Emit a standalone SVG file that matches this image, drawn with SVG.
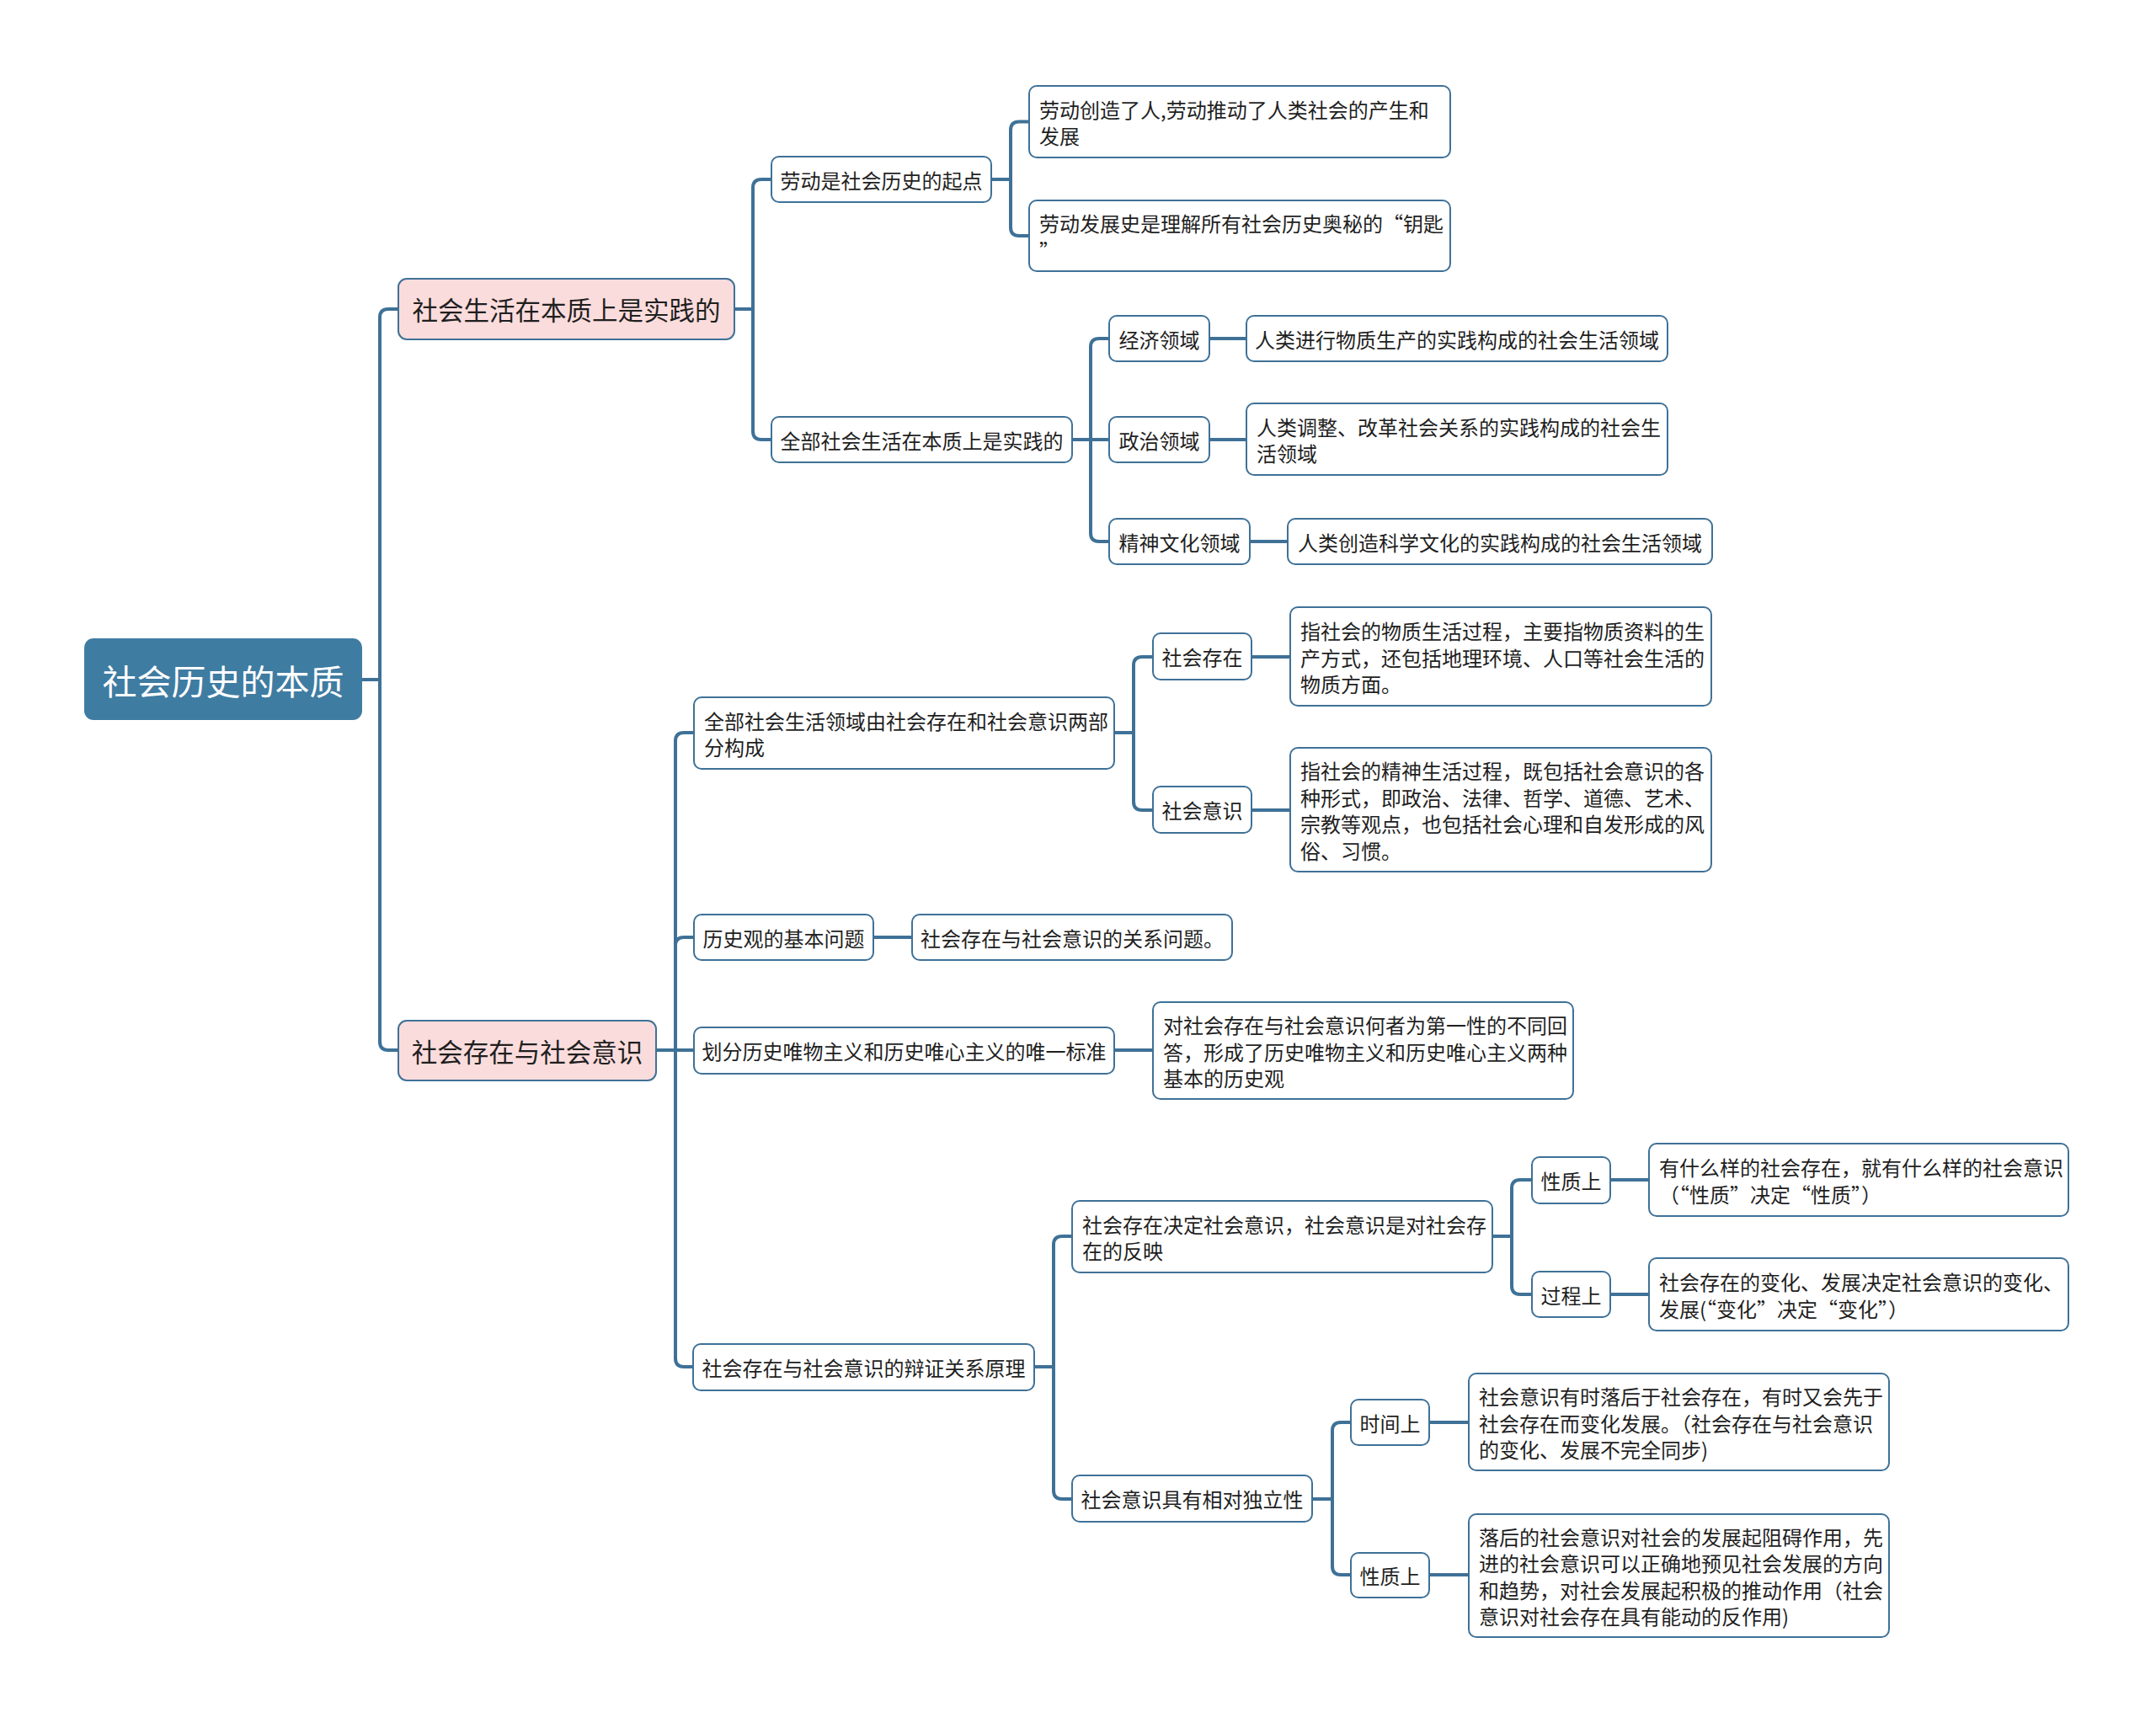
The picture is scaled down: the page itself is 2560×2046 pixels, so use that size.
<svg xmlns="http://www.w3.org/2000/svg" width="2560" height="2046" viewBox="0 0 2560 2046">
<style>
.conn{fill:none;stroke:#3f7197;stroke-width:4;stroke-linecap:round;stroke-linejoin:round}
.box{fill:#ffffff;stroke:#3f7197;stroke-width:2}
.l1{fill:#fbdcdc;stroke:#3f7197;stroke-width:2}
.rootbox{fill:#3f7ca2;stroke:#3f7ca2;stroke-width:2}
text{font-family:"Noto Sans CJK SC","Noto Sans",sans-serif;dominant-baseline:central;fill:#1f1f1f}
.t{font-size:24px}
.c{text-anchor:middle}
.tl1{font-size:30.5px;text-anchor:middle}
.troot{font-size:41px;text-anchor:middle;fill:#ffffff}
</style>
<rect width="2560" height="2046" fill="#ffffff"/>
<g id="connectors">
<path class="conn" d="M429,807 H451 V377 Q451,367 461,367 H473"/>
<path class="conn" d="M429,807 H451 V1237 Q451,1247 461,1247 H473"/>
<path class="conn" d="M872,367 H894 V223 Q894,213 904,213 H916"/>
<path class="conn" d="M872,367 H894 V512 Q894,522 904,522 H916"/>
<path class="conn" d="M1177,213 H1200 V154.5 Q1200,144.5 1210,144.5 H1222"/>
<path class="conn" d="M1177,213 H1200 V270 Q1200,280 1210,280 H1222"/>
<path class="conn" d="M1273,522 H1295 V412 Q1295,402 1305,402 H1317"/>
<path class="conn" d="M1273,522 H1317"/>
<path class="conn" d="M1273,522 H1295 V633 Q1295,643 1305,643 H1317"/>
<path class="conn" d="M1436,402 H1480"/>
<path class="conn" d="M1436,522 H1480"/>
<path class="conn" d="M1484,643 H1529"/>
<path class="conn" d="M779,1247 H802 V880 Q802,870 812,870 H824"/>
<path class="conn" d="M779,1247 H802 V1123 Q802,1113 812,1113 H824"/>
<path class="conn" d="M779,1247 H824"/>
<path class="conn" d="M779,1247 H802 V1613 Q802,1623 812,1623 H824"/>
<path class="conn" d="M1323,870 H1346 V790 Q1346,780 1356,780 H1369"/>
<path class="conn" d="M1323,870 H1346 V952 Q1346,962 1356,962 H1369"/>
<path class="conn" d="M1486,780 H1532"/>
<path class="conn" d="M1486,962 H1532"/>
<path class="conn" d="M1037,1113 H1083"/>
<path class="conn" d="M1323,1247 H1369"/>
<path class="conn" d="M1228,1623 H1251 V1478 Q1251,1468 1261,1468 H1273"/>
<path class="conn" d="M1228,1623 H1251 V1770 Q1251,1780 1261,1780 H1273"/>
<path class="conn" d="M1772,1468 H1795 V1411 Q1795,1401 1805,1401 H1819"/>
<path class="conn" d="M1772,1468 H1795 V1527 Q1795,1537 1805,1537 H1819"/>
<path class="conn" d="M1912,1401 H1958"/>
<path class="conn" d="M1912,1537 H1958"/>
<path class="conn" d="M1558,1780 H1582 V1699 Q1582,1689 1592,1689 H1604"/>
<path class="conn" d="M1558,1780 H1582 V1860 Q1582,1870 1592,1870 H1604"/>
<path class="conn" d="M1697,1689 H1744"/>
<path class="conn" d="M1697,1870 H1744"/>
</g>
<g id="root"><rect class="rootbox" x="101" y="759" width="328" height="95" rx="10"/><text class="troot" x="265" y="806.5">社会历史的本质</text></g>
<g id="n-a"><rect class="l1" x="473" y="331" width="399" height="72" rx="10"/><text class="tl1" x="672.5" y="367">社会生活在本质上是实践的</text></g>
<g id="n-b"><rect class="l1" x="473" y="1212" width="306" height="71" rx="10"/><text class="tl1" x="626" y="1247.5">社会存在与社会意识</text></g>
<g id="n-a1"><rect class="box" x="916" y="186" width="261" height="54" rx="9"/><text class="t c" x="1046.5" y="213">劳动是社会历史的起点</text></g>
<g id="n-a2"><rect class="box" x="916" y="495" width="357" height="54" rx="9"/><text class="t c" x="1094.5" y="522">全部社会生活在本质上是实践的</text></g>
<g id="n-a1a"><rect class="box" x="1222" y="102" width="500" height="85" rx="9"/><text class="t"><tspan x="1234" y="128.75">劳动创造了人,劳动推动了人类社会的产生和</tspan><tspan x="1234" y="160.25">发展</tspan></text></g>
<g id="n-a1b"><rect class="box" x="1222" y="238" width="500" height="84" rx="9"/><text class="t"><tspan x="1234" y="264.25">劳动发展史是理解所有社会历史奥秘的“钥匙</tspan><tspan x="1234" y="295.75">”</tspan></text></g>
<g id="n-a2a"><rect class="box" x="1317" y="375" width="119" height="54" rx="9"/><text class="t c" x="1376.5" y="402">经济领域</text></g>
<g id="n-a2a1"><rect class="box" x="1480" y="375" width="500" height="54" rx="9"/><text class="t c" x="1730" y="402">人类进行物质生产的实践构成的社会生活领域</text></g>
<g id="n-a2b"><rect class="box" x="1317" y="495" width="119" height="54" rx="9"/><text class="t c" x="1376.5" y="522">政治领域</text></g>
<g id="n-a2b1"><rect class="box" x="1480" y="479" width="500" height="85" rx="9"/><text class="t"><tspan x="1492" y="505.75">人类调整、改革社会关系的实践构成的社会生</tspan><tspan x="1492" y="537.25">活领域</tspan></text></g>
<g id="n-a2c"><rect class="box" x="1317" y="616" width="167" height="54" rx="9"/><text class="t c" x="1400.5" y="643">精神文化领域</text></g>
<g id="n-a2c1"><rect class="box" x="1529" y="616" width="504" height="54" rx="9"/><text class="t c" x="1781" y="643">人类创造科学文化的实践构成的社会生活领域</text></g>
<g id="n-b1"><rect class="box" x="824" y="828" width="499" height="85" rx="9"/><text class="t"><tspan x="836" y="854.75">全部社会生活领域由社会存在和社会意识两部</tspan><tspan x="836" y="886.25">分构成</tspan></text></g>
<g id="n-b1a"><rect class="box" x="1369" y="752" width="117" height="55" rx="9"/><text class="t c" x="1427.5" y="779.5">社会存在</text></g>
<g id="n-b1a1"><rect class="box" x="1532" y="721" width="500" height="117" rx="9"/><text class="t"><tspan x="1544" y="748">指社会的物质生活过程，主要指物质资料的生</tspan><tspan x="1544" y="779.5">产方式，还包括地理环境、人口等社会生活的</tspan><tspan x="1544" y="811">物质方面。</tspan></text></g>
<g id="n-b1b"><rect class="box" x="1369" y="934" width="117" height="55" rx="9"/><text class="t c" x="1427.5" y="961.5">社会意识</text></g>
<g id="n-b1b1"><rect class="box" x="1532" y="888" width="500" height="147" rx="9"/><text class="t"><tspan x="1544" y="914.25">指社会的精神生活过程，既包括社会意识的各</tspan><tspan x="1544" y="945.75">种形式，即政治、法律、哲学、道德、艺术、</tspan><tspan x="1544" y="977.25">宗教等观点，也包括社会心理和自发形成的风</tspan><tspan x="1544" y="1008.75">俗、习惯。</tspan></text></g>
<g id="n-b2"><rect class="box" x="824" y="1086" width="213" height="54" rx="9"/><text class="t c" x="930.5" y="1113">历史观的基本问题</text></g>
<g id="n-b2a"><rect class="box" x="1083" y="1086" width="380" height="54" rx="9"/><text class="t c" x="1273" y="1113">社会存在与社会意识的关系问题。</text></g>
<g id="n-b3"><rect class="box" x="824" y="1220" width="499" height="55" rx="9"/><text class="t c" x="1073.5" y="1247.5">划分历史唯物主义和历史唯心主义的唯一标准</text></g>
<g id="n-b3a"><rect class="box" x="1369" y="1190" width="499" height="115" rx="9"/><text class="t"><tspan x="1381" y="1216">对社会存在与社会意识何者为第一性的不同回</tspan><tspan x="1381" y="1247.5">答，形成了历史唯物主义和历史唯心主义两种</tspan><tspan x="1381" y="1279">基本的历史观</tspan></text></g>
<g id="n-b4"><rect class="box" x="823" y="1596" width="405" height="55" rx="9"/><text class="t c" x="1025.5" y="1623.5">社会存在与社会意识的辩证关系原理</text></g>
<g id="n-b4a"><rect class="box" x="1273" y="1426" width="499" height="85" rx="9"/><text class="t"><tspan x="1285" y="1452.75">社会存在决定社会意识，社会意识是对社会存</tspan><tspan x="1285" y="1484.25">在的反映</tspan></text></g>
<g id="n-b4a1"><rect class="box" x="1819" y="1374" width="93" height="55" rx="9"/><text class="t c" x="1865.5" y="1401.5">性质上</text></g>
<g id="n-b4a1a"><rect class="box" x="1958" y="1358" width="498" height="86" rx="9"/><text class="t"><tspan x="1970" y="1385.25">有什么样的社会存在，就有什么样的社会意识</tspan><tspan x="1970" y="1416.75">（“性质”决定“性质”）</tspan></text></g>
<g id="n-b4a2"><rect class="box" x="1819" y="1510" width="93" height="54" rx="9"/><text class="t c" x="1865.5" y="1537">过程上</text></g>
<g id="n-b4a2a"><rect class="box" x="1958" y="1494" width="498" height="86" rx="9"/><text class="t"><tspan x="1970" y="1521.25">社会存在的变化、发展决定社会意识的变化、</tspan><tspan x="1970" y="1552.75">发展(“变化”决定“变化”）</tspan></text></g>
<g id="n-b4b"><rect class="box" x="1273" y="1752" width="285" height="55" rx="9"/><text class="t c" x="1415.5" y="1779.5">社会意识具有相对独立性</text></g>
<g id="n-b4b1"><rect class="box" x="1604" y="1662" width="93" height="54" rx="9"/><text class="t c" x="1650.5" y="1689">时间上</text></g>
<g id="n-b4b1a"><rect class="box" x="1744" y="1631" width="499" height="115" rx="9"/><text class="t"><tspan x="1756" y="1657">社会意识有时落后于社会存在，有时又会先于</tspan><tspan x="1756" y="1688.5">社会存在而变化发展。（社会存在与社会意识</tspan><tspan x="1756" y="1720">的变化、发展不完全同步)</tspan></text></g>
<g id="n-b4b2"><rect class="box" x="1604" y="1844" width="93" height="53" rx="9"/><text class="t c" x="1650.5" y="1870.5">性质上</text></g>
<g id="n-b4b2a"><rect class="box" x="1744" y="1798" width="499" height="146" rx="9"/><text class="t"><tspan x="1756" y="1823.75">落后的社会意识对社会的发展起阻碍作用，先</tspan><tspan x="1756" y="1855.25">进的社会意识可以正确地预见社会发展的方向</tspan><tspan x="1756" y="1886.75">和趋势，对社会发展起积极的推动作用（社会</tspan><tspan x="1756" y="1918.25">意识对社会存在具有能动的反作用)</tspan></text></g>
</svg>
